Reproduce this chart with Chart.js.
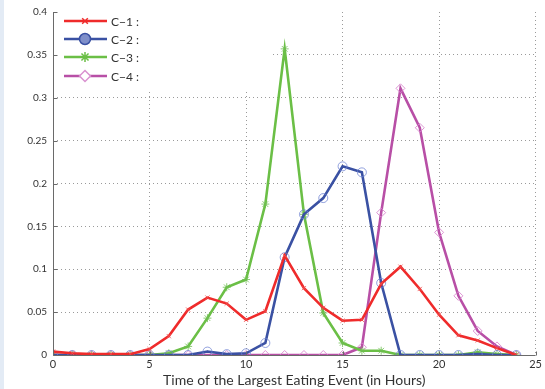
<!DOCTYPE html>
<html>
<head>
<meta charset="utf-8">
<script src="https://cdn.jsdelivr.net/npm/chart.js@4"></script>
<style>
  html, body { margin: 0; padding: 0; background: #fff; }
  body { width: 545px; height: 389px; position: relative; overflow: hidden; }
  #franja { position: absolute; left: 0; top: 0; width: 4px; height: 389px; background: #e3ebf5; }
  #contenedor { position: absolute; left: 0; top: 0; width: 545px; height: 389px; }
</style>
</head>
<body>
<div id="franja"></div>
<div id="contenedor"><canvas id="grafica"></canvas></div>
<script>
// Horas del día (eje x)
const horas = [0,1,2,3,4,5,6,7,8,9,10,11,12,13,14,15,16,17,18,19,20,21,22,23,24];

// Series
const c1 = [0.004,0.002,0.001,0.001,0.001,0.007,0.022,0.053,0.067,0.060,0.041,0.051,0.116,0.078,0.055,0.040,0.041,0.083,0.103,0.077,0.047,0.023,0.017,0.008,0.000];
const c2 = [0.000,0.000,0.000,0.000,0.000,0.000,0.000,0.000,0.004,0.001,0.002,0.014,0.114,0.164,0.183,0.220,0.213,0.084,0.000,0.000,0.000,0.000,0.001,0.000,0.000];
const c3 = [0.000,0.000,0.000,0.000,0.000,0.000,0.002,0.010,0.043,0.079,0.088,0.176,0.357,0.164,0.049,0.014,0.005,0.005,0.000,0.000,0.000,0.000,0.003,0.001,0.000];
const c4 = [0.000,0.000,0.000,0.000,0.000,0.000,0.000,0.000,0.000,0.000,0.000,0.000,0.000,0.000,0.000,0.000,0.009,0.166,0.311,0.265,0.143,0.069,0.028,0.010,0.000];

const etiquetas = ["C\u22121 :", "C\u22122 :", "C\u22123 :", "C\u22124 :"];
const ticksX = [0,5,10,15,20,25];
const ticksY = [0,0.05,0.1,0.15,0.2,0.25,0.3,0.35,0.4];
const tituloX = "Time of the Largest Eating Event (in Hours)";

const fuente = "Lato, 'Open Sans', sans-serif";

function serie(nombre, valores, color, marcador, colorMarcador, radio, rellenoLeyenda) {
  return {
    label: nombre,
    data: valores.map((v, i) => ({ x: horas[i], y: v })),
    borderColor: color,
    borderWidth: 2.6,
    backgroundColor: "transparent",
    pointStyle: marcador,
    pointRadius: radio,
    pointBorderColor: colorMarcador,
    pointBackgroundColor: "transparent",
    pointBorderWidth: 1,
    tension: 0,
    rellenoLeyenda: rellenoLeyenda
  };
}

const datasets = [
  serie(etiquetas[0], c1, "#ef2b2b", "crossRot", "rgba(239,80,80,0.8)", 3, "#ef2b2b"),
  serie(etiquetas[1], c2, "#3a51a3", "circle", "rgba(110,130,210,0.75)", 4.5, "#7f8fca"),
  serie(etiquetas[2], c3, "#6bbf46", "star", "rgba(110,190,80,0.8)", 4, "#6bbf46"),
  serie(etiquetas[3], c4, "#b84fa6", "rectRot", "rgba(215,130,205,0.85)", 4.5, "#fff")
];

// Leyenda dentro del área del gráfico, con caja blanca que tapa la rejilla
const leyendaInterna = {
  id: "leyendaInterna",
  beforeDatasetsDraw(chart) {
    const ctx = chart.ctx;
    const area = chart.chartArea;
    ctx.save();
    ctx.fillStyle = "#fff";
    ctx.fillRect(area.left + 1, area.top, 216, 80);
    ctx.restore();
  },
  afterDatasetsDraw(chart) {
    const ctx = chart.ctx;
    const filas = [21, 39, 57, 76];
    ctx.save();
    chart.data.datasets.forEach((ds, i) => {
      const y = filas[i];
      ctx.strokeStyle = ds.borderColor;
      ctx.lineWidth = 2.6;
      ctx.beginPath();
      ctx.moveTo(64, y);
      ctx.lineTo(107, y);
      ctx.stroke();
      // marcador de la leyenda
      ctx.fillStyle = ds.rellenoLeyenda;
      ctx.strokeStyle = i === 3 ? "#d991d0" : ds.borderColor;
      ctx.lineWidth = 1.5;
      Chart.helpers.drawPoint(ctx, {
        pointStyle: ds.pointStyle,
        radius: ds.pointRadius + 1,
        borderWidth: 1.5,
        rotation: 0
      }, 85, y);
      ctx.fillStyle = "#333";
      ctx.font = "12px " + fuente;
      ctx.textBaseline = "middle";
      ctx.fillText(ds.label, 111, y + 1);
    });
    ctx.restore();
  }
};

// Ejes sólidos y marcas hacia dentro (estilo MATLAB)
const marcasInternas = {
  id: "marcasInternas",
  afterDraw(chart) {
    const ctx = chart.ctx;
    const sx = chart.scales.x, sy = chart.scales.y;
    const area = chart.chartArea;
    const izq = Math.round(area.left) + 0.5;
    const abajo = Math.round(area.bottom) + 0.5;
    ctx.save();
    ctx.setLineDash([]);
    ctx.strokeStyle = "#6a6a6a";
    ctx.lineWidth = 1;
    ctx.beginPath();
    ctx.moveTo(izq, area.top);
    ctx.lineTo(izq, abajo);
    ctx.lineTo(area.right, abajo);
    ticksY.forEach(v => {
      const y = Math.round(sy.getPixelForValue(v)) + 0.5;
      ctx.moveTo(izq, y);
      ctx.lineTo(izq + 4, y);
    });
    ticksX.forEach(v => {
      const x = Math.round(sx.getPixelForValue(v)) + 0.5;
      ctx.moveTo(x, abajo);
      ctx.lineTo(x, abajo - 4);
    });
    ctx.stroke();
    ctx.restore();
  }
};

const ctx = document.getElementById("grafica").getContext("2d");

new Chart(ctx, {
  type: "line",
  data: { datasets: datasets },
  options: {
    responsive: true,
    maintainAspectRatio: false,
    animation: false,
    layout: { padding: { top: 10, right: 8, left: 0, bottom: 0 } },
    plugins: {
      legend: { display: false },
      tooltip: { enabled: false }
    },
    scales: {
      x: {
        type: "linear",
        min: 0,
        max: 25,
        afterBuildTicks(axis) { axis.ticks = ticksX.map(v => ({ value: v })); },
        afterFit(axis) { axis.height = 34; },
        ticks: {
          color: "#333",
          font: { family: fuente, size: 11 },
          padding: 3,
          maxRotation: 0
        },
        grid: {
          drawTicks: false,
          color: (c) => (c.tick && c.tick.value === 0 ? "transparent" : "#9a9a9a"),
          lineWidth: 1
        },
        border: { display: false, dash: [1, 3] },
        title: {
          display: true,
          text: tituloX,
          color: "#333",
          font: { family: fuente, size: 14 },
          padding: { top: 0, bottom: 0 }
        }
      },
      y: {
        min: 0,
        max: 0.4,
        afterBuildTicks(axis) { axis.ticks = ticksY.map(v => ({ value: v })); },
        afterFit(axis) { axis.width = 53; },
        ticks: {
          color: "#333",
          font: { family: fuente, size: 10 },
          padding: 6,
          callback: (v) => String(v)
        },
        grid: {
          drawTicks: false,
          color: (c) => (c.tick && (c.tick.value === 0 || c.tick.value === 0.4) ? "transparent" : "#9a9a9a"),
          lineWidth: 1
        },
        border: { display: false, dash: [1, 3] }
      }
    }
  },
  plugins: [leyendaInterna, marcasInternas]
});
</script>
</body>
</html>
